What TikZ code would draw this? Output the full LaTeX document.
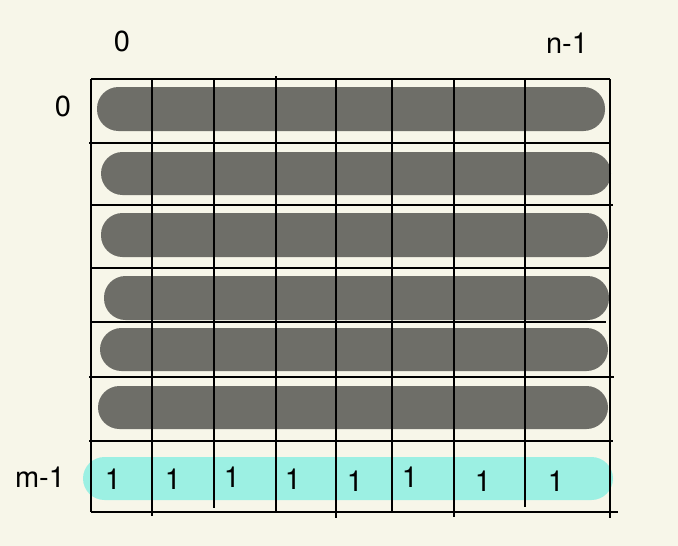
\documentclass[tikz,border=0pt]{standalone}
\usepackage{fontspec}
\setmainfont{TeX Gyre Heros}
\definecolor{bg}{HTML}{F7F6E9}
\definecolor{pillgray}{HTML}{6E6E68}
\definecolor{pillcyan}{HTML}{9CF0E3}
\begin{document}
\begin{tikzpicture}[x=1pt,y=-1pt,
  gline/.style={line width=1.6pt,black},
  graypill/.style={fill=pillgray,rounded corners=21.5pt},
  cyanpill/.style={fill=pillcyan,rounded corners=21.5pt},
  lbl/.style={font=\fontsize{29}{31}\selectfont,inner sep=0pt,text=black}]
\fill[bg] (0,0) rectangle (678,546);
\useasboundingbox (0,0) rectangle (678,546);
% pills
\path[graypill] (97,87) rectangle (605,131);
\path[graypill] (101,152) rectangle (611,195);
\path[graypill] (101,213) rectangle (608,257);
\path[graypill] (104,276) rectangle (609,320);
\path[graypill] (100,328) rectangle (608,371);
\path[graypill] (98,386) rectangle (608,429);
\path[cyanpill] (83,457) rectangle (613,500);
% horizontal lines
\draw[gline] (91,79) -- (610,79);
\draw[gline] (89,143) -- (610,143);
\draw[gline] (91,205) -- (613,205);
\draw[gline] (91,268) -- (610,268);
\draw[gline] (91,322) -- (606,322);
\draw[gline] (89,377) -- (614,377);
\draw[gline] (89,441) -- (613,441);
\draw[gline] (91,512) -- (618,512);
% vertical lines
\draw[gline] (91,79) -- (91,512);
\draw[gline] (152,78) -- (152,516);
\draw[gline] (214,78) -- (214,508);
\draw[gline] (276,76) -- (276,511);
\draw[gline] (336,78) -- (336,518);
\draw[gline] (392,78) -- (392,511);
\draw[gline] (454,78) -- (454,517);
\draw[gline] (525,79) -- (525,507);
\draw[gline] (610,79) -- (610,518);
% labels
\node[lbl] (c0) at (122,41) {0};
\node[lbl] (cn) at (567,43) {n-1};
\node[lbl] (r0) at (63,106) {0};
\node[lbl] (rm) at (40,477) {m-1};
\node[lbl] (v1) at (113,479) {1};
\node[lbl] (v2) at (173,479) {1};
\node[lbl] (v3) at (232,477) {1};
\node[lbl] (v4) at (293,479) {1};
\node[lbl] (v5) at (355,481) {1};
\node[lbl] (v6) at (410,477) {1};
\node[lbl] (v7) at (483,481) {1};
\node[lbl] (v8) at (556,481) {1};
\end{tikzpicture}
\end{document}
